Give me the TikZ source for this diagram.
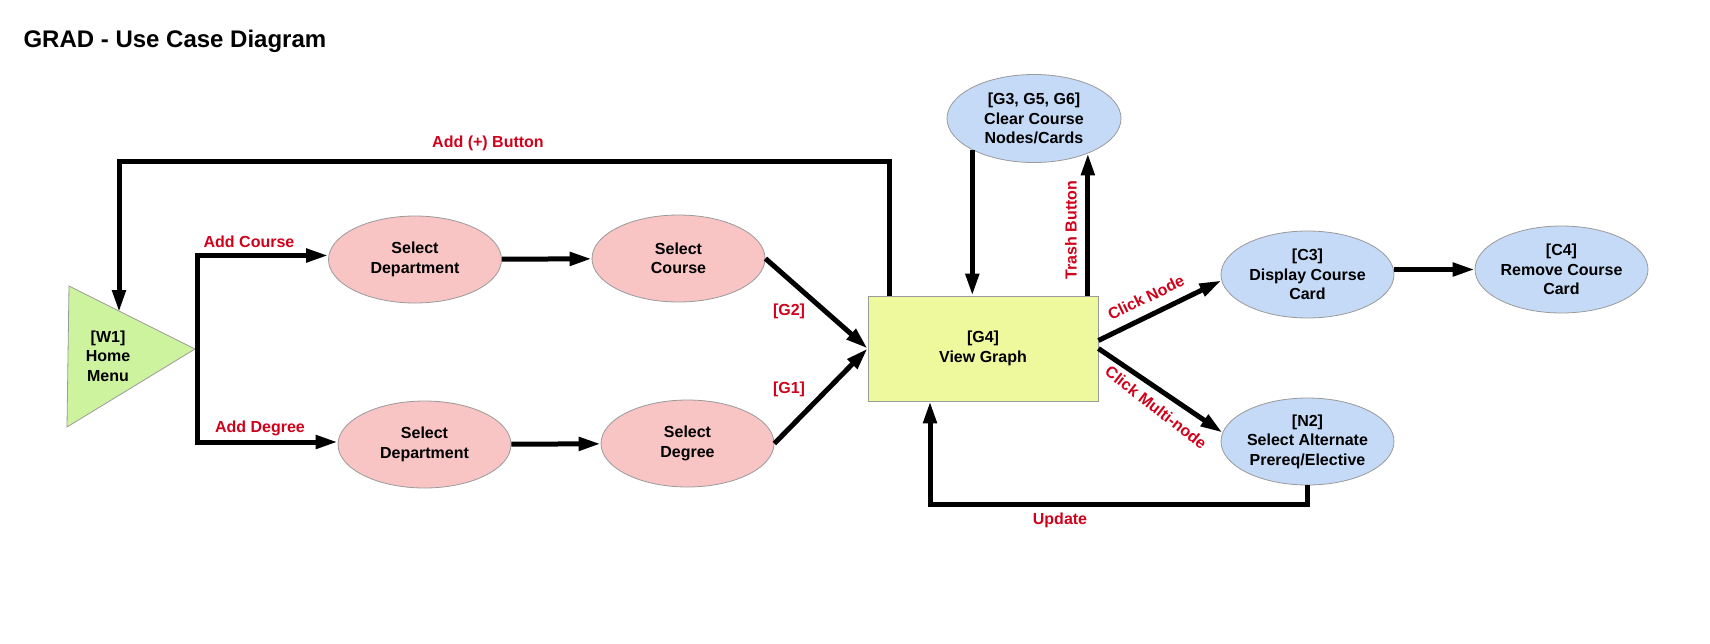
\documentclass[tikz,border=0pt]{standalone}
\usepackage{fontspec}
\setmainfont{Liberation Sans}
\usetikzlibrary{arrows.meta,shapes.geometric}
\definecolor{tagred}{HTML}{D0021B}
\definecolor{edgegray}{HTML}{9A9A9A}
\definecolor{pinkfill}{HTML}{F8C4C4}
\definecolor{bluefill}{HTML}{C4DAF6}
\definecolor{greenfill}{HTML}{CEF39E}
\definecolor{yellowfill}{HTML}{EEF99D}

\begin{document}
\begin{tikzpicture}[x=1pt, y=-1pt,
  flow/.style={line width=5pt, -{Triangle[length=22pt,width=13pt]}},
  boxtext/.style={align=center, font=\bfseries\fontsize{16}{19.5}\selectfont},
  usecase/.style={ellipse, draw=edgegray, line width=0.8pt, inner sep=-20pt,
    minimum width=173pt, minimum height=87pt, boxtext},
  pinkcase/.style={usecase, fill=pinkfill},
  bluecase/.style={usecase, fill=bluefill},
  redtag/.style={text=tagred, font=\bfseries\fontsize{16}{19.5}\selectfont}]
  \useasboundingbox (0,0) rectangle (1710,643);
  \node[anchor=west, font=\bfseries\fontsize{24}{28}\selectfont] (title) at (20,41) {GRAD - Use Case Diagram};

  \filldraw[fill=greenfill, draw=edgegray, line width=0.8pt] (69,286) -- (195,349) -- (67,427) -- cycle;
  \node[boxtext] (home) at (108,356) {[W1]\\Home\\Menu};
  \coordinate (hometip) at (197,349);
  \coordinate (hometop) at (119,312);

  \node[pinkcase] (dep1) at (415,259.5) {Select\\Department};
  \node[pinkcase] (course) at (678.5,258.5) {Select\\Course};
  \node[pinkcase] (dep2) at (424.5,444.5) {Select\\Department};
  \node[pinkcase] (degree) at (687.5,443.5) {Select\\Degree};
  \node[draw=edgegray, fill=yellowfill, line width=0.8pt, minimum width=230pt, minimum height=105pt, boxtext] (graph) at (983,348.5) {[G4]\\View Graph};
  \node[bluecase, minimum width=174pt, minimum height=88pt] (clear) at (1034,118.5) {[G3, G5, G6]\\Clear Course\\Nodes/Cards};
  \node[bluecase] (disp) at (1307.5,274.5) {[C3]\\Display Course\\Card};
  \node[bluecase] (remove) at (1561.5,269.5) {[C4]\\Remove Course\\Card};
  \node[bluecase] (alt) at (1307.5,441.5) {[N2]\\Select Alternate\\Prereq/Elective};

  \draw[flow] (hometip) |- ([yshift=4pt]dep1.west);
  \draw[flow] (hometip) |- ([yshift=2.5pt]dep2.west);
  \draw[flow] (dep1) -- (course);
  \draw[flow] (dep2) -- (degree);
  \draw[flow] (course.east) -- (graph.west);
  \draw[flow] (degree.east) -- (graph.west);
  \draw[flow] ([xshift=-94pt]graph.north) -- ++(0,-134) -| (hometop);
  \draw[flow] (clear.-153) -- (clear.-153 |- graph.north);
  \draw[flow] (clear.-33 |- graph.north) -- (clear.-33);
  \draw[flow] ([yshift=8pt]graph.east) -- (disp.184);
  \draw[flow] (graph.east) -- (alt.174);
  \draw[flow] (disp.east |- remove.west) -- (remove.west);
  \draw[flow] (alt.south) -- ++(0,19) -| ([xshift=-53pt]graph.south);

  \node[redtag] (addbtn) at (488,143) {Add (+) Button};
  \node[redtag] (addcourse) at (249,242) {Add Course};
  \node[redtag] (adddegree) at (260,428.5) {Add Degree};
  \node[redtag] (gtwo) at (789,311) {[G2]};
  \node[redtag] (gone) at (789,389) {[G1]};
  \node[redtag, rotate=90] (trash) at (1071,230) {Trash Button};
  \node[redtag, rotate=26] (clicknode) at (1146,297.5) {Click Node};
  \node[redtag, rotate=-38] (clickmulti) at (1156,407.5) {Click Multi-node};
  \node[redtag] (update) at (1060,520) {Update};
\end{tikzpicture}
\end{document}
